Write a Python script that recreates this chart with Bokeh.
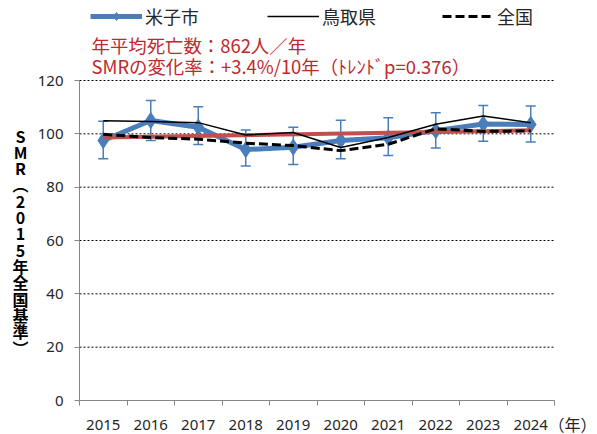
from bokeh.plotting import figure
from bokeh.models import (ColumnDataSource, Whisker, TeeHead, FixedTicker, Legend,
                          LegendItem, Label, Range1d)
from bokeh.embed import file_html
from bokeh.resources import INLINE

years = ["2015", "2016", "2017", "2018", "2019", "2020", "2021", "2022", "2023", "2024"]
yonago = [97.5, 105.0, 102.5, 94.1, 95.0, 97.5, 98.5, 101.2, 103.7, 103.5]
yonago_upper = [104.7, 112.5, 110.2, 101.4, 102.5, 105.1, 106.0, 107.9, 110.6, 110.4]
yonago_lower = [90.7, 97.5, 96.0, 87.9, 88.5, 90.7, 91.9, 94.7, 97.2, 96.9]
tottori = [104.9, 104.6, 104.2, 99.6, 100.5, 94.9, 98.6, 103.6, 106.7, 104.2]
national = [99.8, 98.6, 98.0, 96.5, 95.6, 93.7, 96.1, 101.9, 100.9, 101.1]
trend_start, trend_end = 98.6, 101.3
y_ticks = [0, 20, 40, 60, 80, 100, 120]

BLUE = "#4a7ebb"
RED = "#c0504d"
JP = "Noto Sans CJK JP"
W, H = 597, 434
PX_X = 47.5          # pixels per category
PX_Y = 320 / 120     # pixels per SMR unit
X0, Y0 = 79, 400     # canvas position of the data origin

n = len(years)
xs = [i + 0.5 for i in range(n)]
src = ColumnDataSource(dict(x=xs, yonago=yonago, up=yonago_upper, lo=yonago_lower,
                            tottori=tottori, national=national))

p = figure(width=W, height=H, output_backend="svg", toolbar_location=None,
           x_range=Range1d(-X0 / PX_X, (W - X0) / PX_X),
           y_range=Range1d(-(H - Y0) / PX_Y, Y0 / PX_Y),
           min_border=0)
p.outline_line_color = None
p.background_fill_color = "white"
p.xgrid.visible = False
p.ygrid.visible = False

# dashed horizontal grid lines (only across the category span)
gy = [t for t in y_ticks if t > 0]
p.segment(x0=[0] * len(gy), x1=[n] * len(gy), y0=gy, y1=gy,
          line_color="#000000", line_width=1, line_dash="2 2")

# axes placed at the data origin, inside the frame
p.yaxis.fixed_location = 0
p.yaxis.bounds = (0, 120)
p.yaxis.ticker = FixedTicker(ticks=y_ticks)
p.yaxis.axis_line_color = "#868686"
p.yaxis.major_tick_line_color = "#868686"
p.yaxis.major_tick_out = 5
p.yaxis.major_tick_in = 0
p.yaxis.minor_tick_line_color = None
p.yaxis.major_label_standoff = 11
p.yaxis.major_label_text_font = "Noto Sans"
p.yaxis.major_label_text_font_size = "15px"
p.yaxis.major_label_text_color = "#262626"

p.xaxis.fixed_location = 0
p.xaxis.bounds = (0, n)
p.xaxis.ticker = FixedTicker(ticks=xs, minor_ticks=list(range(n + 1)))
p.xaxis.major_label_overrides = {x: y for x, y in zip(xs, years)}
p.xaxis.axis_line_color = "#868686"
p.xaxis.major_tick_line_color = None
p.xaxis.minor_tick_line_color = "#868686"
p.xaxis.minor_tick_out = 5
p.xaxis.minor_tick_in = 0
p.xaxis.major_label_standoff = 13
p.xaxis.major_label_text_font = "Noto Sans"
p.xaxis.major_label_text_font_size = "15px"
p.xaxis.major_label_text_color = "#262626"

# error bars
wh = Whisker(base="x", upper="up", lower="lo", source=src, line_color=BLUE, line_width=1.5,
             upper_head=TeeHead(size=10, line_color=BLUE, line_width=1.5),
             lower_head=TeeHead(size=10, line_color=BLUE, line_width=1.5))
p.add_layout(wh)

bl = p.line("x", "yonago", source=src, line_color=BLUE, line_width=5)
bm = p.scatter("x", "yonago", source=src, marker="diamond", size=16,
               fill_color=BLUE, line_color=BLUE)

# trend line
p.line([xs[0], xs[-1]], [trend_start, trend_end], line_color=RED, line_width=4)

tl = p.line("x", "tottori", source=src, line_color="black", line_width=1.5)
nl = p.line("x", "national", source=src, line_color="black", line_width=3, line_dash="9 4")

def mk_legend(items, x):
    lg = Legend(items=items, location=(x, H - 29), orientation="horizontal",
                glyph_width=52, glyph_height=20, label_standoff=3, padding=0, margin=0,
                border_line_color=None, background_fill_alpha=0,
                label_text_font=JP, label_text_font_size="18px", label_text_color="#262626")
    p.add_layout(lg, "center")

mk_legend([LegendItem(label="米子市", renderers=[bl, bm])], 90)
mk_legend([LegendItem(label="鳥取県", renderers=[tl])], 267)
mk_legend([LegendItem(label="全国", renderers=[nl])], 442)

# red annotations
p.add_layout(Label(x=91, y=H - 44, x_units="screen", y_units="screen",
                   text="年平均死亡数：862人／年", text_font=JP,
                   text_font_size="18.4px", text_color="#c0282d", text_baseline="middle"))
p.add_layout(Label(x=91, y=H - 65, x_units="screen", y_units="screen",
                   text="SMRの変化率：+3.4%/10年（ﾄﾚﾝﾄﾞp=0.376）", text_font=JP,
                   text_font_size="18.4px", text_color="#c0282d", text_baseline="middle"))

# vertical y-axis title
title_chars = ["S", "M", "R", "︵", "2", "0", "1", "5", "年", "全", "国", "基", "準", "︶"]
p.add_layout(Label(x=20, y=H - 123, x_units="screen", y_units="screen",
                   text="\n".join(title_chars), text_font=JP,
                   text_font_size="16px", text_font_style="bold", text_color="black",
                   text_align="center", text_baseline="top", text_line_height=0.68))

p.add_layout(Label(x=596, y=H - 423, x_units="screen", y_units="screen",
                   text="（年）", text_font=JP, text_font_size="16px",
                   text_color="#262626", text_align="right", text_baseline="middle"))

open("out.html", "w").write(file_html(p, INLINE))
